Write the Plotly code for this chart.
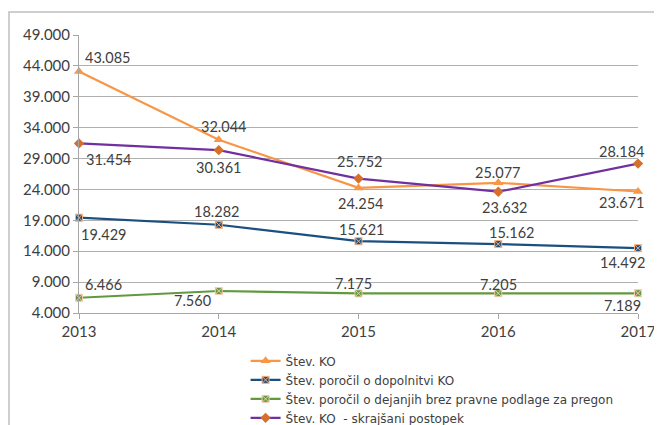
import plotly.graph_objects as go

years = [2013, 2014, 2015, 2016, 2017]
ko = [43085, 32044, 24254, 25077, 23671]
dopolnitve = [19429, 18282, 15621, 15162, 14492]
brez_podlage = [6466, 7560, 7175, 7205, 7189]
skrajsani = [31454, 30361, 25752, 23632, 28184]
y_ticks = [4000, 9000, 14000, 19000, 24000, 29000, 34000, 39000, 44000, 49000]

names = ["Štev. KO", "Štev. poročil o dopolnitvi KO",
         "Štev. poročil o dejanjih brez pravne podlage za pregon",
         "Štev. KO  - skrajšani postopek"]

def fmt(v):
    return f"{v:,}".replace(",", ".")

FONT = "Lato"
TXT = "#404040"

# label offsets in pixels (dx right, dy down) relative to each point
ko_off = [(28, -14.5), (5, -13), (2, 16), (-1, -10), (-17, 11)]
dop_off = [(24, 17), (-2, -13), (3, -12), (13, -12), (-16, 14.5)]
brez_off = [(24, -13), (-26, 9), (-5, -10), (0, -9), (-15.5, 12)]
skr_off = [(29, 16), (0, 17), (1, -17), (6, 16), (-17, -12)]

series = [
    (ko, names[0], dict(color="#F79646", width=2.2),
     dict(symbol="triangle-up", size=9, color="#F79646"), ko_off),
    (dopolnitve, names[1], dict(color="#1B4F80", width=2.2),
     dict(symbol="square-x", size=7, color="#1B4F80", line=dict(color="#F4B183", width=1)), dop_off),
    (brez_podlage, names[2], dict(color="#62993E", width=2.2),
     dict(symbol="square-x", size=7, color="#62993E", line=dict(color="#F4CCB0", width=1)), brez_off),
    (skrajsani, names[3], dict(color="#7030A0", width=2.2),
     dict(symbol="diamond", size=8, color="#D56F2A"), skr_off),
]

fig = go.Figure()
annotations = []
for vals, name, line, marker, offs in series:
    fig.add_trace(go.Scatter(
        x=years, y=vals, name=name, mode="lines+markers",
        line=line, marker=marker, cliponaxis=False,
    ))
    for xv, yv, (dx, dy) in zip(years, vals, offs):
        annotations.append(dict(
            x=xv, y=yv, xref="x", yref="y", text=fmt(yv), showarrow=False,
            xanchor="center", yanchor="middle", xshift=dx, yshift=-dy,
            font=dict(family=FONT, size=14.5, color=TXT)))

fig.update_layout(
    width=654, height=417,
    margin=dict(l=71, r=24, t=27, b=112, autoexpand=False),
    paper_bgcolor="white", plot_bgcolor="white",
    font=dict(family=FONT, size=14, color=TXT),
    showlegend=True,
    annotations=annotations,
    legend=dict(x=0.298, y=-0.12, xanchor="left", yanchor="top",
                orientation="v", font=dict(family="DejaVu Sans", size=12, color=TXT),
                itemwidth=30, tracegroupgap=0, bgcolor="rgba(0,0,0,0)"),
    xaxis=dict(range=[2013, 2017], tickvals=years, ticktext=[str(y) for y in years],
               showgrid=False, showline=True, linecolor="#A6A6A6", linewidth=1,
               ticks="outside", ticklen=5, tickcolor="#A6A6A6", automargin=False,
               tickfont=dict(family=FONT, size=15, color=TXT), zeroline=False),
    yaxis=dict(range=[4000, 49000], tickvals=y_ticks,
               ticktext=[fmt(v) for v in y_ticks], automargin=False,
               showgrid=True, gridcolor="#B0B0B0", gridwidth=1,
               showline=True, linecolor="#A6A6A6", zeroline=False,
               ticks="outside", ticklen=5, tickcolor="#A6A6A6",
               tickfont=dict(family=FONT, size=15, color=TXT)),
    shapes=[dict(type="rect", xref="paper", yref="paper",
                 x0=-0.1252, x1=1.2, y0=-0.6, y1=1.0827,
                 line=dict(color="#BFBFBF", width=1.5), fillcolor="rgba(0,0,0,0)",
                 layer="below")],
)

fig.write_html("out.html")
